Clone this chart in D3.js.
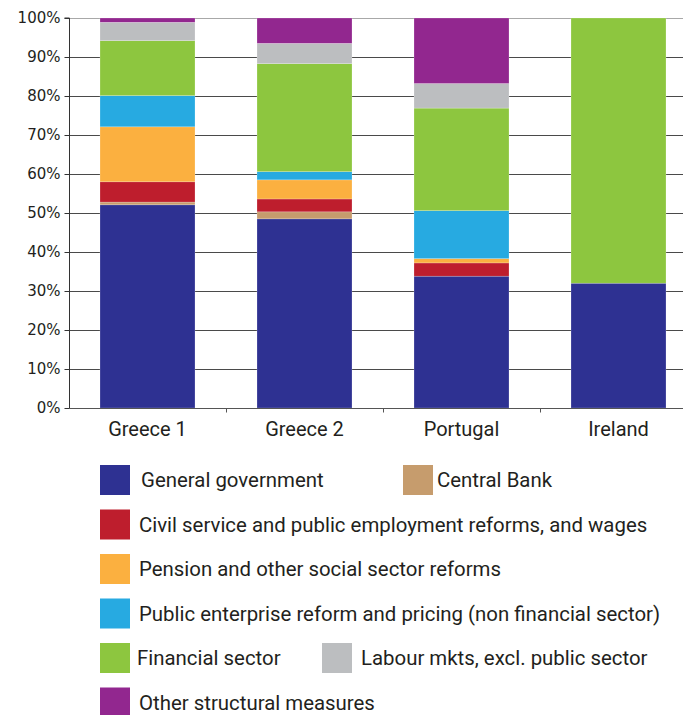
<!DOCTYPE html>
<html>
<head>
<meta charset="utf-8">
<script src="https://cdn.jsdelivr.net/npm/d3@7"></script>
<style>
  html, body { margin: 0; padding: 0; background: #fff; }
  svg { display: block; }
</style>
</head>
<body>
<div id="chart"></div>
<script>
// Programme categories
const categories = ["Greece 1", "Greece 2", "Portugal", "Ireland"];

// Share of conditionality by area (% of total), one array per series
const generalGovernment = [52.1, 48.5, 33.8, 32.0];
const centralBank       = [0.7, 1.8, 0.0, 0.0];
const civilService      = [5.2, 3.3, 3.4, 0.0];
const pensionReforms    = [14.1, 4.9, 1.1, 0.0];
const publicEnterprise  = [8.0, 2.1, 12.3, 0.0];
const financialSector   = [14.1, 27.7, 26.3, 68.0];
const labourMarkets     = [4.7, 5.2, 6.3, 0.0];
const otherStructural   = [1.1, 6.5, 16.8, 0.0];

const yTicks = [0, 10, 20, 30, 40, 50, 60, 70, 80, 90, 100];

const seriesDefs = [
  { key: "gg",    name: "General government", values: generalGovernment, color: "#2E3192" },
  { key: "cb",    name: "Central Bank", values: centralBank, color: "#C69C6D" },
  { key: "civil", name: "Civil service and public employment reforms, and wages", values: civilService, color: "#BE1E2D" },
  { key: "pens",  name: "Pension and other social sector reforms", values: pensionReforms, color: "#FBB040" },
  { key: "pub",   name: "Public enterprise reform and pricing (non financial sector)", values: publicEnterprise, color: "#27AAE1" },
  { key: "fin",   name: "Financial sector", values: financialSector, color: "#8DC63F" },
  { key: "lab",   name: "Labour mkts, excl. public sector", values: labourMarkets, color: "#BCBEC0" },
  { key: "oth",   name: "Other structural measures", values: otherStructural, color: "#92278F" }
];

const W = 683, H = 715;
const textColor = "#231F20";
const textFont = "Roboto, 'Open Sans', sans-serif";
const tickFont = "'DejaVu Sans', sans-serif";

const svg = d3.select("#chart").append("svg")
  .attr("width", W).attr("height", H);

svg.append("rect").attr("width", W).attr("height", H).attr("fill", "#fff");

const plotLeft = 69, plotBottom = 408, plotTop = 18;

const y = d3.scaleLinear().domain([0, 100]).range([plotBottom, plotTop]);
const x = d3.scaleBand().domain(categories)
  .range([plotLeft, plotLeft + 628])
  .paddingInner(0.395).paddingOuter(0.1975);

// Table rows for the stack layout
const rows = categories.map((c, i) => {
  const r = { category: c };
  seriesDefs.forEach(s => { r[s.key] = s.values[i]; });
  return r;
});
const stacked = d3.stack().keys(seriesDefs.map(s => s.key))(rows);

// Horizontal gridlines
svg.append("g").selectAll("line")
  .data(yTicks.filter(t => t > 0))
  .join("line")
  .attr("x1", plotLeft).attr("x2", W)
  .attr("y1", d => Math.round(y(d)) + 0.5)
  .attr("y2", d => Math.round(y(d)) + 0.5)
  .attr("stroke", d => d === 100 ? "#a8a8a8" : "#4a4a4a")
  .attr("stroke-width", 1);

// Stacked bars
const colorOf = Object.fromEntries(seriesDefs.map(s => [s.key, s.color]));
svg.append("g").selectAll("g")
  .data(stacked)
  .join("g")
  .attr("fill", d => colorOf[d.key])
  .selectAll("rect")
  .data(d => d)
  .join("rect")
  .attr("x", d => x(d.data.category))
  .attr("width", x.bandwidth())
  .attr("y", d => y(d[1]))
  .attr("height", d => Math.max(0, y(d[0]) - y(d[1])))
  .attr("stroke", "#ffffff")
  .attr("stroke-opacity", d => (d[1] - d[0]) > 0 ? 0.35 : 0)
  .attr("stroke-width", 0.6);

// Y axis
const yAxis = d3.axisLeft(y).tickValues(yTicks).tickSize(5).tickFormat(d => d + "%");
const gy = svg.append("g").attr("transform", `translate(${plotLeft + 0.5},0)`).call(yAxis);
gy.select(".domain").attr("stroke", "#333").attr("d", `M-5,${y(100)}H0V${y(0)}`);
gy.selectAll(".tick line").attr("stroke", "#333");
gy.selectAll(".tick text")
  .attr("x", -9)
  .attr("fill", textColor)
  .style("font-family", tickFont)
  .style("font-size", "15px");

// X axis baseline with separators between categories
const gx = svg.append("g").attr("transform", `translate(0,${plotBottom + 0.5})`);
gx.append("line").attr("x1", plotLeft).attr("x2", W)
  .attr("stroke", "#555").attr("stroke-width", 1);
const seps = categories.slice(1).map(c => x(c) - x.step() * x.paddingInner() / 2);
gx.selectAll("line.sep").data(seps).join("line")
  .attr("class", "sep")
  .attr("x1", d => Math.round(d) + 0.5).attr("x2", d => Math.round(d) + 0.5)
  .attr("y1", 0).attr("y2", 4)
  .attr("stroke", "#555");
gx.selectAll("text").data(categories).join("text")
  .attr("x", d => x(d) + x.bandwidth() / 2)
  .attr("y", 27)
  .attr("text-anchor", "middle")
  .attr("fill", textColor)
  .style("font-family", textFont)
  .style("font-size", "20px")
  .text(d => d);

// Legend
const legendPos = {
  gg:    [100, 480, 141],
  cb:    [403, 480, 437],
  civil: [100, 524.5, 139],
  pens:  [100, 569, 139],
  pub:   [100, 613.5, 139],
  fin:   [100, 658, 137],
  lab:   [322, 658, 361],
  oth:   [100, 702.5, 139]
};
const legend = svg.append("g");
seriesDefs.forEach(s => {
  const [sx, cy, tx] = legendPos[s.key];
  legend.append("rect")
    .attr("x", sx).attr("y", cy - 15)
    .attr("width", 30).attr("height", 30)
    .attr("fill", s.color);
  legend.append("text")
    .attr("x", tx).attr("y", cy + 7)
    .attr("fill", textColor)
    .style("font-family", textFont)
    .style("font-size", "20.4px")
    .text(s.name);
});
</script>
</body>
</html>
